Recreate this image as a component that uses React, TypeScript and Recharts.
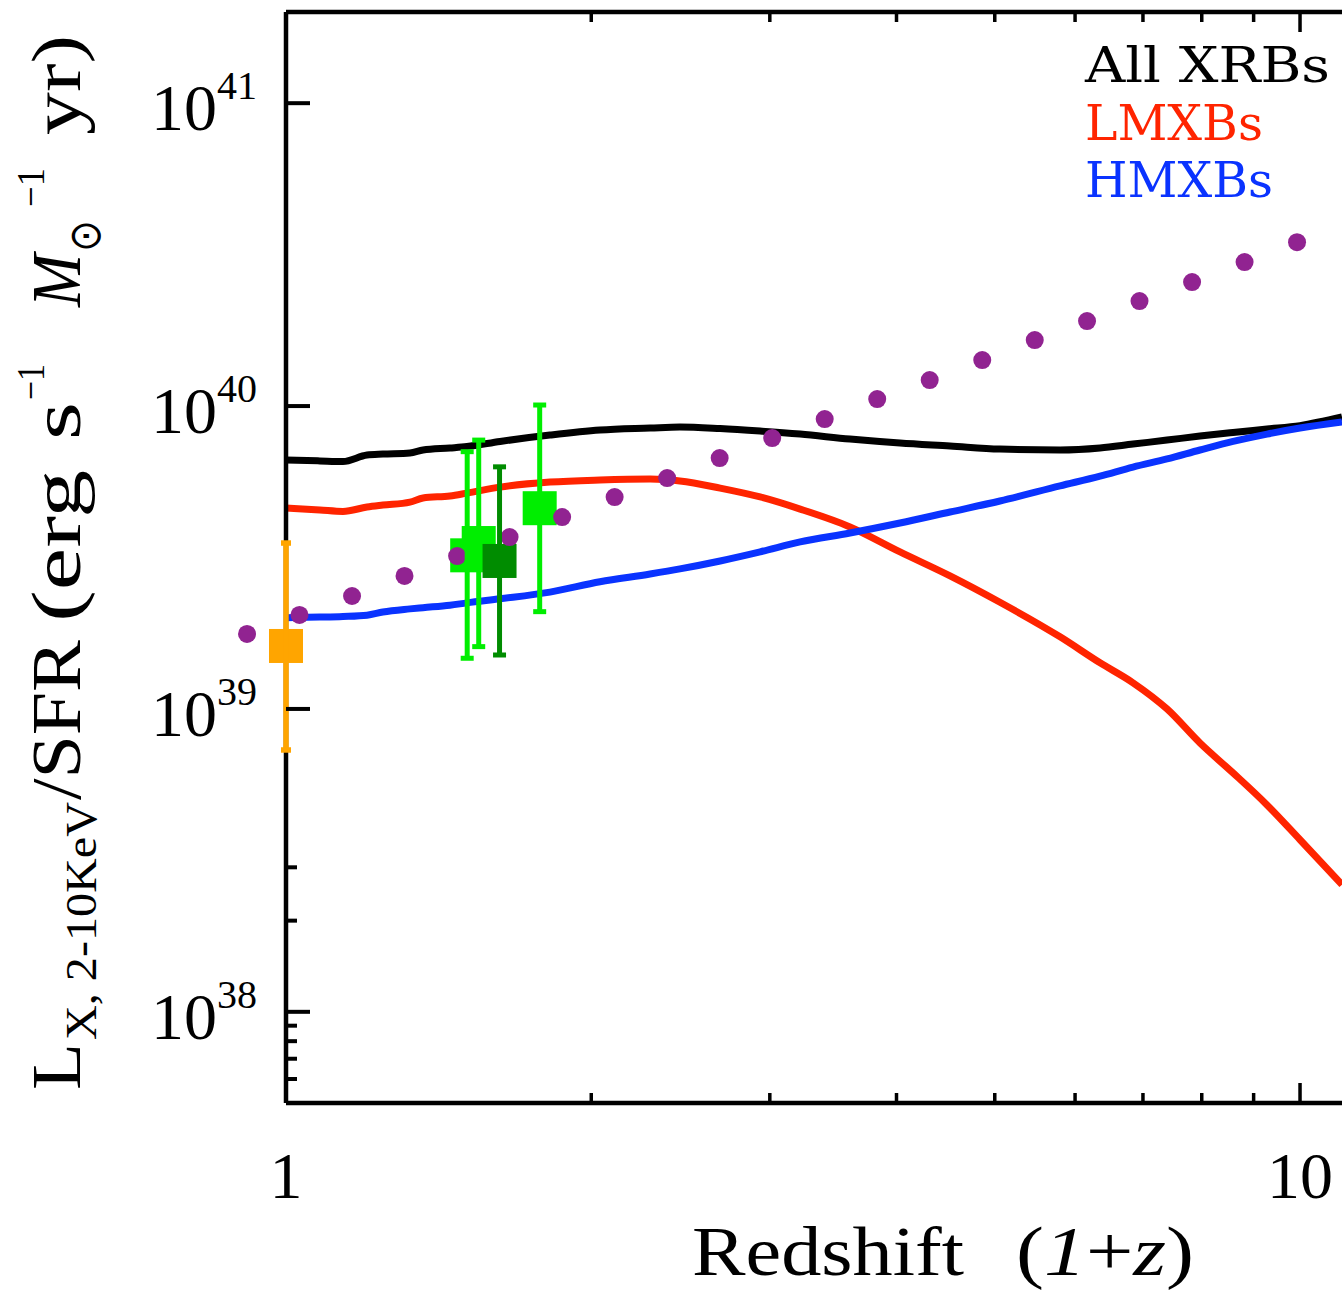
import React from 'react';
import { ComposedChart, Line, Scatter, XAxis, YAxis, ErrorBar, Legend } from 'recharts';

// ---------- data ----------
const LINE_X = [1.0, 1.08, 1.138, 1.202, 1.246, 1.325, 1.365, 1.451, 1.508, 1.626, 1.821, 2.04, 2.286, 2.446, 2.68, 2.935, 3.214, 3.599, 4.032, 4.517, 5.059, 5.799, 6.35, 6.844, 7.393, 7.968, 8.589, 9.278, 10.0, 11.0];
const ALL_XRBS = [6.64e39, 6.59e39, 6.56e39, 6.89e39, 6.94e39, 7.0e39, 7.16e39, 7.27e39, 7.35e39, 7.64e39, 8.02e39, 8.33e39, 8.46e39, 8.53e39, 8.43e39, 8.27e39, 8.08e39, 7.78e39, 7.55e39, 7.38e39, 7.21e39, 7.16e39, 7.27e39, 7.49e39, 7.72e39, 7.96e39, 8.18e39, 8.4e39, 8.62e39, 9.2e39];
const LMXBS = [4.61e39, 4.54e39, 4.49e39, 4.64e39, 4.71e39, 4.82e39, 4.97e39, 5.05e39, 5.16e39, 5.4e39, 5.61e39, 5.7e39, 5.74e39, 5.66e39, 5.36e39, 5.01e39, 4.57e39, 3.99e39, 3.3e39, 2.75e39, 2.25e39, 1.73e39, 1.42e39, 1.22e39, 1.0e39, 7.72e38, 6.15e38, 4.82e38, 3.7e38, 2.63e38];
const HMXBS = [2.0e39, 2.01e39, 2.02e39, 2.04e39, 2.09e39, 2.14e39, 2.16e39, 2.2e39, 2.24e39, 2.31e39, 2.43e39, 2.63e39, 2.79e39, 2.9e39, 3.08e39, 3.3e39, 3.56e39, 3.81e39, 4.11e39, 4.47e39, 4.86e39, 5.45e39, 5.87e39, 6.29e39, 6.69e39, 7.16e39, 7.64e39, 8.08e39, 8.46e39, 8.86e39];

const DOT_X = [0.9153, 1.0311, 1.1618, 1.3088, 1.4748, 1.6615, 1.872, 2.109, 2.3762, 2.6771, 3.0163, 3.3982, 3.8286, 4.3133, 4.8597, 5.475, 6.1654, 6.9455, 7.826, 8.8168, 9.9321];
const DOT_Y = [1.768e39, 2.043e39, 2.36e39, 2.748e39, 3.198e39, 3.695e39, 4.302e39, 5.008e39, 5.786e39, 6.736e39, 7.842e39, 9.06e39, 1.055e40, 1.218e40, 1.418e40, 1.651e40, 1.908e40, 2.221e40, 2.566e40, 2.987e40, 3.477e40];

const LOCAL_X = [1.0];
const LOCAL_Y = [1.614e39];
const LOCAL_LO = [7.32e38];
const LOCAL_HI = [3.53e39];

const GREEN_X = [1.509, 1.549, 1.779];
const GREEN_Y = [3.215e39, 3.53e39, 4.6e39];
const GREEN_LO = [1.47e39, 1.606e39, 2.095e39];
const GREEN_HI = [7.07e39, 7.72e39, 1.008e40];

const DKGREEN_X = [1.624];
const DKGREEN_Y = [3.08e39];
const DKGREEN_LO = [1.507e39];
const DKGREEN_HI = [6.3e39];

const X_TICKS = [1, 2, 3, 4, 5, 6, 7, 8, 9, 10];
const X_LABELS: Record<number, string> = { 1: '1', 10: '10' };
const Y_TICKS = [6e37, 7e37, 8e37, 9e37, 1e38, 2e38, 3e38, 1e39, 1e40, 1e41];

const SERIES = [
  { key: 'all', name: 'All XRBs', color: '#000000' },
  { key: 'lmxb', name: 'LMXBs', color: '#FF2400' },
  { key: 'hmxb', name: 'HMXBs', color: '#0A33FF' },
];

// ---------- derived tables ----------
const LINE_TABLE = LINE_X.map((x, i) => ({ x, all: ALL_XRBS[i], lmxb: LMXBS[i], hmxb: HMXBS[i] }));
const DOT_TABLE = DOT_X.map((x, i) => ({ x, y: DOT_Y[i] }));
const obsTable = (xs: number[], ys: number[], lo: number[], hi: number[]) =>
  xs.map((x, i) => ({ x, y: ys[i], err: [ys[i] - lo[i], hi[i] - ys[i]] }));
const LOCAL_TABLE = obsTable(LOCAL_X, LOCAL_Y, LOCAL_LO, LOCAL_HI);
const GREEN_TABLE = obsTable(GREEN_X, GREEN_Y, GREEN_LO, GREEN_HI);
const DKGREEN_TABLE = obsTable(DKGREEN_X, DKGREEN_Y, DKGREEN_LO, DKGREEN_HI);

// ---------- styling ----------
const SERIF = '"Liberation Serif", "DejaVu Serif", serif';
const SLAB = '"DejaVu Serif", serif';

const isDecade = (v: number) => {
  const l = Math.log10(v);
  return Math.abs(l - Math.round(l)) < 1e-6;
};

const YTick = (props: any) => {
  const { x, y, payload } = props;
  const v = payload.value;
  const major = isDecade(v);
  const exp = Math.round(Math.log10(v));
  return (
    <g>
      <line x1={x} y1={y} x2={x + (major ? 24 : 11)} y2={y} stroke="#000" strokeWidth={4} />
      {major && (
        <text x={x - 29} y={y + 27} textAnchor="end" fontFamily={SERIF} fontSize={66} fill="#000">
          10<tspan dy={-31} fontSize={40}>{exp}</tspan>
        </text>
      )}
    </g>
  );
};

const XTickBottom = (props: any) => {
  const { x, y, payload } = props;
  const v = payload.value;
  const major = isDecade(v);
  const lab = X_LABELS[v];
  return (
    <g>
      <line x1={x} y1={y} x2={x} y2={y - (major ? 20 : 10)} stroke="#000" strokeWidth={3.5} />
      {lab && (
        <text x={x} y={y + 95} textAnchor="middle" fontFamily={SERIF} fontSize={66} fill="#000">
          {lab}
        </text>
      )}
    </g>
  );
};

const XTickTop = (props: any) => {
  const { x, y, payload } = props;
  const major = isDecade(payload.value);
  return <line x1={x} y1={y} x2={x} y2={y + (major ? 20 : 10)} stroke="#000" strokeWidth={3.5} />;
};

const Dot = (props: any) => <circle cx={props.cx} cy={props.cy} r={9} fill="#912391" />;
const makeSquare = (color: string) => (props: any) => (
  <rect x={props.cx - 17} y={props.cy - 17} width={34} height={34} fill={color} />
);

const LegendBox = () => (
  <svg width={262} height={190} style={{ display: 'block', overflow: 'visible' }}>
    {SERIES.map((s, i) => (
      <text
        key={s.key}
        x={2}
        y={62 + 57.5 * i}
        fill={s.color}
        fontFamily={SLAB}
        fontSize={49}
        textLength={[245, 178, 188][i]}
        lengthAdjust="spacingAndGlyphs"
      >
        {i === 0 ? 'All\u00a0XRBs' : s.name}
      </text>
    ))}
  </svg>
);

// y label segments (text layout, rotated frame: x = -screenY, y = screenX)
const YLAB: { t: string; s: number; y0: number; y1: number; bx: number; it?: boolean; f?: string }[] = [
  { t: 'L', s: 70, y0: 1090, y1: 1043, bx: 80 },
  { t: 'X, 2-10KeV', s: 44, y0: 1040, y1: 802, bx: 96 },
  { t: '/SFR', s: 70, y0: 800, y1: 640, bx: 80 },
  { t: '(erg', s: 70, y0: 622, y1: 470, bx: 80 },
  { t: 's', s: 70, y0: 440, y1: 402, bx: 80 },
  { t: '\u22121', s: 40, y0: 400, y1: 364, bx: 44 },
  { t: 'M', s: 70, y0: 307, y1: 254, bx: 80, it: true },
  { t: '\u2299', s: 44, y0: 252, y1: 220, bx: 100, f: '"DejaVu Sans", sans-serif' },
  { t: '\u22121', s: 40, y0: 207, y1: 168, bx: 44 },
  { t: 'yr)', s: 70, y0: 135, y1: 35, bx: 80 },
];

export default function App() {
  return (
    <div style={{ position: 'absolute', left: 0, top: 0, width: 1342, height: 1291, overflow: 'hidden', background: '#fff' }}>
      <style>{`.recharts-wrapper [clip-path] { clip-path: none !important; }`}</style>
      <ComposedChart width={1342} height={1291} data={LINE_TABLE} margin={{ top: 0, right: 0, bottom: 0, left: 0 }}>
        <XAxis
          xAxisId="b"
          dataKey="x"
          type="number"
          scale="log"
          domain={[1, 11]}
          allowDataOverflow
          ticks={X_TICKS}
          interval={0}
          orientation="bottom"
          height={188}
          tickSize={0}
          tickMargin={0}
          tickLine={false}
          tick={<XTickBottom />}
          axisLine={{ stroke: '#000', strokeWidth: 4.5 }}
        />
        <XAxis
          xAxisId="t"
          dataKey="x"
          type="number"
          scale="log"
          domain={[1, 11]}
          allowDataOverflow
          ticks={X_TICKS}
          interval={0}
          orientation="top"
          height={12}
          tickSize={0}
          tickMargin={0}
          tickLine={false}
          tick={<XTickTop />}
          axisLine={{ stroke: '#000', strokeWidth: 4.5 }}
        />
        <YAxis
          yAxisId="l"
          type="number"
          scale="log"
          domain={[5e37, 2e41]}
          allowDataOverflow
          ticks={Y_TICKS}
          interval={0}
          width={286}
          tickSize={0}
          tickMargin={0}
          tickLine={false}
          tick={<YTick />}
          axisLine={{ stroke: '#000', strokeWidth: 4.5 }}
        />
        {SERIES.map((s) => (
          <Line
            key={s.key}
            xAxisId="b"
            yAxisId="l"
            dataKey={s.key}
            name={s.name}
            type="monotone"
            stroke={s.color}
            strokeWidth={7}
            dot={false}
            activeDot={false}
            isAnimationActive={false}
          />
        ))}
        <Scatter xAxisId="b" yAxisId="l" data={LOCAL_TABLE} dataKey="y" legendType="none" shape={makeSquare('#FFA500')} isAnimationActive={false}>
          <ErrorBar dataKey="err" direction="y" width={5} stroke="#FFA500" strokeWidth={5.5} zIndex={650} isAnimationActive={false} />
        </Scatter>
        <Scatter xAxisId="b" yAxisId="l" data={GREEN_TABLE} dataKey="y" legendType="none" shape={makeSquare('#00EE00')} isAnimationActive={false}>
          <ErrorBar dataKey="err" direction="y" width={6.5} stroke="#00EE00" strokeWidth={5} zIndex={650} isAnimationActive={false} />
        </Scatter>
        <Scatter xAxisId="b" yAxisId="l" data={DKGREEN_TABLE} dataKey="y" legendType="none" shape={makeSquare('#008C00')} isAnimationActive={false}>
          <ErrorBar dataKey="err" direction="y" width={6.5} stroke="#008C00" strokeWidth={5} zIndex={650} isAnimationActive={false} />
        </Scatter>
        <Scatter xAxisId="b" yAxisId="l" data={DOT_TABLE} dataKey="y" legendType="none" shape={Dot} isAnimationActive={false} />
        <Legend
          layout="horizontal"
          verticalAlign="middle"
          align="center"
          wrapperStyle={{ left: 1083, top: 20, width: 262, height: 190 }}
          content={LegendBox}
        />
      </ComposedChart>
      <svg width={1342} height={1291} style={{ position: 'absolute', left: 0, top: 0, pointerEvents: 'none' }}>
        <text x={692} y={1275} fontFamily={SERIF} fontSize={70} fill="#000" textLength={272} lengthAdjust="spacingAndGlyphs">
          Redshift
        </text>
        <text x={1016} y={1275} fontFamily={SERIF} fontSize={70} fill="#000" textLength={178} lengthAdjust="spacingAndGlyphs">
          (<tspan fontStyle="italic">1</tspan>+<tspan fontStyle="italic">z</tspan>)
        </text>
        <g transform="rotate(-90)">
          {YLAB.map((seg, i) => (
            <text
              key={i}
              x={-seg.y0}
              y={seg.bx}
              fontFamily={seg.f || SERIF}
              fontSize={seg.s}
              fontStyle={seg.it ? 'italic' : 'normal'}
              fill="#000"
              textLength={seg.y0 - seg.y1}
              lengthAdjust="spacingAndGlyphs"
            >
              {seg.t}
            </text>
          ))}
        </g>
      </svg>
    </div>
  );
}
